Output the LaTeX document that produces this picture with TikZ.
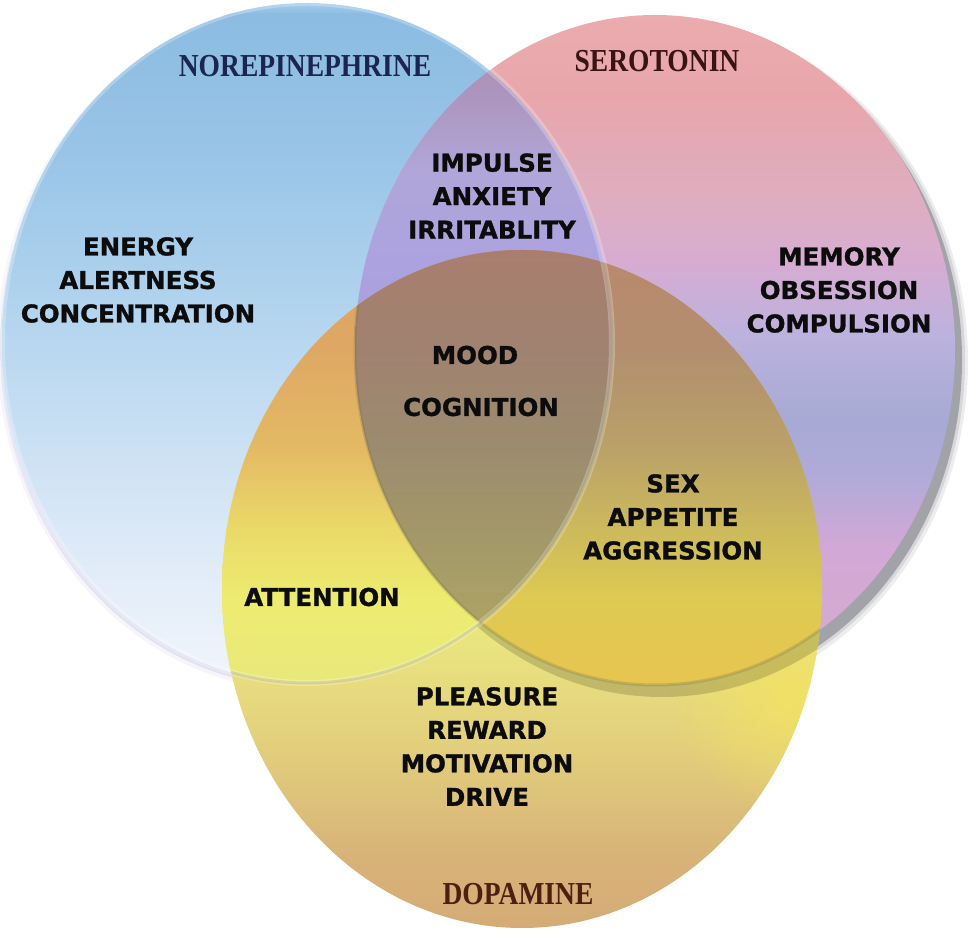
\documentclass[tikz,border=0pt]{standalone}
\usepackage{fontspec}
\usepackage{graphicx}
\usetikzlibrary{fadings}
\tikzfading[name=softspot, inner color=transparent!0, outer color=transparent!100]
\newfontfamily\labfont{DejaVu Sans}[BoldFeatures={FakeBold=1.2}]
\newfontfamily\ttlfont{Liberation Serif}
% blue
\definecolor{bl0}{RGB}{165,208,236}
\definecolor{bl1}{RGB}{140,188,226}
\definecolor{bl2}{RGB}{152,196,231}
\definecolor{bl3}{RGB}{176,211,238}
\definecolor{bl4}{RGB}{204,225,244}
\definecolor{bl5}{RGB}{224,235,248}
\definecolor{bl6}{RGB}{242,246,252}
% pink
\definecolor{pk0}{RGB}{236,172,174}
\definecolor{pk1}{RGB}{232,166,172}
\definecolor{pk2}{RGB}{222,174,192}
\definecolor{pk3}{RGB}{214,172,210}
\definecolor{pk4}{RGB}{188,178,222}
\definecolor{pk5}{RGB}{166,170,212}
\definecolor{pk6}{RGB}{178,170,216}
\definecolor{pk7}{RGB}{210,168,214}
\definecolor{pk8}{RGB}{214,172,206}
% blue & pink
\definecolor{bp0}{RGB}{178,140,165}
\definecolor{bp1}{RGB}{172,148,188}
\definecolor{bp2}{RGB}{176,166,216}
\definecolor{bp3}{RGB}{172,162,224}
\definecolor{bp4}{RGB}{170,160,222}
% yellow
\definecolor{yl0}{RGB}{222,165,100}
\definecolor{yl1}{RGB}{236,236,112}
\definecolor{yl2}{RGB}{234,228,128}
\definecolor{yl3}{RGB}{226,206,124}
\definecolor{yl4}{RGB}{216,180,120}
\definecolor{yl5}{RGB}{212,170,118}
\definecolor{yright}{RGB}{242,226,100}
% blue & yellow
\definecolor{by0}{RGB}{222,162,98}
\definecolor{by1}{RGB}{222,168,100}
\definecolor{by2}{RGB}{228,186,100}
\definecolor{by3}{RGB}{234,218,104}
\definecolor{by4}{RGB}{237,236,112}
\definecolor{by5}{RGB}{232,232,125}
% pink & yellow
\definecolor{py0}{RGB}{186,136,110}
\definecolor{py1}{RGB}{178,142,110}
\definecolor{py2}{RGB}{186,162,104}
\definecolor{py3}{RGB}{204,186,92}
\definecolor{py4}{RGB}{222,202,82}
\definecolor{py5}{RGB}{232,196,80}
% triple
\definecolor{tr0}{RGB}{170,126,110}
\definecolor{tr1}{RGB}{160,130,112}
\definecolor{tr2}{RGB}{156,140,110}
\definecolor{tr3}{RGB}{164,154,104}
\definecolor{tr4}{RGB}{178,168,100}
% misc
\definecolor{shadowgrey}{RGB}{110,110,120}
\definecolor{lavshadow}{RGB}{185,185,225}
\definecolor{edgeolive}{RGB}{110,110,70}
\definecolor{navytitle}{RGB}{28,37,80}
\definecolor{serotitle}{RGB}{58,20,20}
\definecolor{dopatitle}{RGB}{74,32,16}
\definecolor{labblack}{RGB}{12,12,12}
% vertical colour band spanning the whole width (used inside clips)
\newcommand{\gband}[4]{\shade[top color=#3,bottom color=#4] (-5,{933-#1}) rectangle (975,{931-#2});}
\begin{document}
\begin{tikzpicture}[x=1pt,y=1pt,
  blueE/.style={insert path={(307,589) ellipse [x radius=305,y radius=340]}},
  pinkE/.style={insert path={(655,582) ellipse [x radius=300,y radius=335]}},
  yelE/.style={insert path={(522,343) ellipse [x radius=300,y radius=339]}},
  lab/.style={font=\labfont\bfseries\fontsize{24.5}{33.5}\selectfont, align=center, text=labblack, inner sep=0pt},
  ttl/.style={font=\ttlfont\bfseries\fontsize{32}{36}\selectfont, inner sep=0pt}]
\useasboundingbox (0,0) rectangle (969,932);

% ---- shadows
\fill[lavshadow, opacity=0.15] (305,584) ellipse [x radius=308,y radius=343];
\fill[lavshadow, opacity=0.35] (305,585) ellipse [x radius=305,y radius=340];
\fill[shadowgrey, opacity=0.12] (662,571) ellipse [x radius=306,y radius=341];
\fill[shadowgrey, opacity=0.18] (662,572) ellipse [x radius=303,y radius=338];
\fill[shadowgrey, opacity=0.50] (662,572) ellipse [x radius=300,y radius=335];

% ---- blue circle (norepinephrine)
\begin{scope}
\clip[blueE];
\gband{0}{15}{bl0}{bl1}
\gband{15}{150}{bl1}{bl2}
\gband{150}{300}{bl2}{bl3}
\gband{300}{450}{bl3}{bl4}
\gband{450}{560}{bl4}{bl5}
\gband{560}{690}{bl5}{bl6}
\end{scope}

% ---- pink circle (serotonin)
\begin{scope}
\clip[pinkE];
\gband{10}{100}{pk0}{pk1}
\gband{100}{200}{pk1}{pk2}
\gband{200}{265}{pk2}{pk3}
\gband{265}{335}{pk3}{pk4}
\gband{335}{420}{pk4}{pk5}
\gband{420}{480}{pk5}{pk6}
\gband{480}{545}{pk6}{pk7}
\gband{545}{690}{pk7}{pk8}
\end{scope}

% ---- yellow circle (dopamine)
\begin{scope}
\clip[yelE];
\gband{245}{560}{yl0}{yl1}
\gband{560}{640}{yl1}{yl2}
\gband{640}{750}{yl2}{yl3}
\gband{750}{850}{yl3}{yl4}
\gband{850}{935}{yl4}{yl5}
\fill[yright, path fading=softspot, opacity=0.9] (790,237) circle (120);
% pink shadow seen through the yellow (interior later covered)
\fill[black, opacity=0.16] (662,572) ellipse [x radius=302,y radius=337];
\end{scope}

% ---- blue & pink
\begin{scope}
\clip[blueE];
\clip[pinkE];
\gband{15}{90}{bp0}{bp1}
\gband{90}{170}{bp1}{bp2}
\gband{170}{260}{bp2}{bp3}
\gband{260}{330}{bp3}{bp4}
\end{scope}

% ---- blue & yellow
\begin{scope}
\clip[blueE];
\clip[yelE];
\gband{245}{350}{by0}{by1}
\gband{350}{450}{by1}{by2}
\gband{450}{530}{by2}{by3}
\gband{530}{600}{by3}{by4}
\gband{600}{690}{by4}{by5}
\end{scope}

% ---- pink & yellow
\begin{scope}
\clip[pinkE];
\clip[yelE];
\gband{245}{350}{py0}{py1}
\gband{350}{450}{py1}{py2}
\gband{450}{530}{py2}{py3}
\gband{530}{600}{py3}{py4}
\gband{600}{695}{py4}{py5}
\end{scope}

% ---- all three
\begin{scope}
\clip[blueE];
\clip[pinkE];
\clip[yelE];
\gband{245}{350}{tr0}{tr1}
\gband{350}{450}{tr1}{tr2}
\gband{450}{550}{tr2}{tr3}
\gband{550}{665}{tr3}{tr4}
\end{scope}

% ---- faint outlines seen through the yellow circle
\begin{scope}
\clip[yelE];
\draw[edgeolive, opacity=0.25, line width=3, blueE];
\draw[edgeolive, opacity=0.25, line width=3, pinkE];
\end{scope}

% light rim on the top of the blue circle
\draw[white, opacity=0.25, line width=6, blueE];

% ---- titles
\node[ttl, text=navytitle] (tnore) at (305,866) {\scalebox{0.86}[1]{NOREPINEPHRINE}};
\node[ttl, text=serotitle] (tsero) at (657,871) {\scalebox{0.86}[1]{SEROTONIN}};
\node[ttl, text=dopatitle] (tdopa) at (518,38) {\scalebox{0.86}[1]{DOPAMINE}};

% ---- labels
\node[lab] (lnore) at (138,652) {ENERGY\\ALERTNESS\\CONCENTRATION};
\node[lab] (lnoreser) at (492,736) {IMPULSE\\ANXIETY\\IRRITABLITY};
\node[lab] (lsero) at (839,642) {MEMORY\\OBSESSION\\COMPULSION};
\node[lab] (lmood) at (475,577) {MOOD};
\node[lab] (lcog) at (481,525) {COGNITION};
\node[lab] (lserdop) at (673,415) {SEX\\APPETITE\\AGGRESSION};
\node[lab] (lnordop) at (322,335) {ATTENTION};
\node[lab] (ldopa) at (487,185.5) {PLEASURE\\REWARD\\MOTIVATION\\DRIVE};
\end{tikzpicture}
\end{document}
